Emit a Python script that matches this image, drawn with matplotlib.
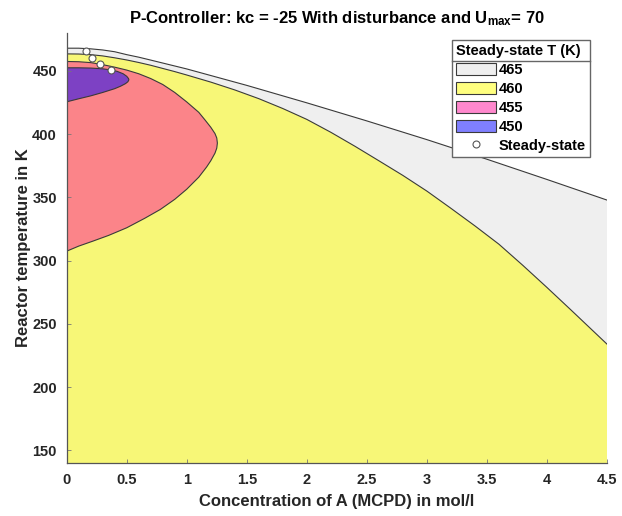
import matplotlib
matplotlib.use("Agg")
import matplotlib.pyplot as plt
from matplotlib.lines import Line2D
from matplotlib.patches import Patch

plt.rcParams['font.family'] = ['Liberation Sans', 'DejaVu Sans']
plt.rcParams['font.weight'] = 'bold'
plt.rcParams['mathtext.fontset'] = 'custom'
plt.rcParams['mathtext.rm'] = 'Liberation Sans:bold'
plt.rcParams['mathtext.bf'] = 'Liberation Sans:bold'

# upper boundary of the 465 K region (everything below it converges to 465 K)
b465_x = [0, 0.1, 0.2, 0.3, 0.4, 0.5, 0.6, 0.7, 1.0, 1.5, 2.0, 2.5, 3.0, 3.5, 4.0, 4.5]
b465_y = [468, 468, 467.5, 466.6, 465.2, 462.9, 460.9, 458.6, 451.6, 438.6, 424.8,
          410.5, 395.7, 380.2, 364.2, 347.9]

# upper boundary of the 460 K region
b460_x = [0, 0.1, 0.2, 0.3, 0.4, 0.5, 0.6, 0.7, 0.8, 0.9, 1.0, 1.2, 1.4, 1.6, 1.8,
          2.0, 2.2, 2.4, 2.6, 2.8, 3.0, 3.2, 3.4, 3.6, 3.8, 4.0, 4.2, 4.4, 4.5]
b460_y = [463.5, 463.4, 462.9, 461.9, 460.4, 458.7, 456.7, 454.5, 452.0, 449.5, 446.8,
          441.2, 435.0, 428.1, 420.3, 411.7, 401.5, 390.5, 379.0, 367.4, 355.0, 341.4,
          327.5, 313.0, 296.2, 278.8, 261.0, 243.0, 234.0]

# closed outline of the 455 K region (top branch, then bottom branch back to x=0)
b455_x = [0, 0.1, 0.2, 0.3, 0.4, 0.5, 0.6, 0.7, 0.8, 0.9, 1.0, 1.1, 1.15, 1.2,
          1.235, 1.25, 1.255, 1.25, 1.235, 1.2, 1.165, 1.1, 1.0, 0.9, 0.78, 0.65,
          0.5, 0.35, 0.22, 0.1, 0]
b455_y = [457.5, 457.3, 456.6, 455, 453, 450.7, 447.8, 444, 439.3, 433, 425.5, 417.3,
          411.5, 405.5, 400.5, 397, 393, 389, 385, 379, 374, 366, 356.5, 348.5, 340.5,
          333.5, 326, 320, 315.5, 311.5, 307.5]

# closed outline of the 450 K region
b450_x = [0, 0.1, 0.2, 0.3, 0.37, 0.42, 0.47, 0.5, 0.515, 0.518, 0.51, 0.49, 0.45,
          0.4, 0.3, 0.2, 0.1, 0]
b450_y = [452.5, 452.5, 452.3, 451.7, 450.8, 449.7, 447.8, 445.8, 444, 443, 441.5,
          440, 438, 436, 433, 430.3, 428, 425.6]

# steady states
ss_x = [0.16, 0.21, 0.28, 0.37]
ss_y = [465.5, 460.5, 455.5, 450.5]

levels = ['465', '460', '455', '450']
face = {
    '465': (0.88, 0.88, 0.88, 0.5),
    '460': (1.0, 1.0, 0.0, 0.5),
    '455': (1.0, 0.07, 0.61, 0.5),
    '450': (0.0, 0.0, 1.0, 0.5),
}
edge = '#3a3a3a'
Y_MIN, Y_MAX = 140, 480

fig = plt.figure(figsize=(6.22, 5.16), dpi=100)
ax = fig.add_axes([0.1072, 0.1027, 0.8687, 0.8333])

ax.fill_between(b465_x, b465_y, Y_MIN - 10, facecolor=face['465'], edgecolor='none')
ax.fill_between(b460_x, b460_y, Y_MIN - 10, facecolor=face['460'], edgecolor='none')
ax.plot(b465_x, b465_y, color=edge, lw=0.8)
ax.plot(b460_x, b460_y, color=edge, lw=0.8)
ax.fill(b455_x, b455_y, facecolor=face['455'], edgecolor=edge, lw=0.8)
ax.fill(b450_x, b450_y, facecolor=face['450'], edgecolor=edge, lw=0.8)
ax.plot(ss_x, ss_y, 'o', ms=5, mfc='white', mec='#555555', mew=0.8, zorder=5)

ax.set_xlim(0, 4.5)
ax.set_ylim(Y_MIN, Y_MAX)
ax.set_xticks([0, 0.5, 1, 1.5, 2, 2.5, 3, 3.5, 4, 4.5])
ax.set_xticklabels(['0', '0.5', '1', '1.5', '2', '2.5', '3', '3.5', '4', '4.5'])
ax.set_yticks([150, 200, 250, 300, 350, 400, 450])
for s in ['top', 'right']:
    ax.spines[s].set_visible(False)
for s in ['left', 'bottom']:
    ax.spines[s].set_color('#555555')
    ax.spines[s].set_linewidth(0.9)
ax.tick_params(direction='in', length=3, width=0.6, color='#777777',
               labelsize=10.5, labelcolor='#262626', pad=7)

ax.set_xlabel('Concentration of A (MCPD) in mol/l', fontsize=12, fontweight='bold',
              color='#262626', labelpad=5)
ax.set_ylabel('Reactor temperature in K', fontsize=12, fontweight='bold',
              color='#262626', labelpad=1)
ax.set_title(r'P-Controller: kc = -25 With disturbance and $\mathbf{U_{max}}$= 70',
             fontsize=12, fontweight='bold', pad=7)

handles = [Patch(facecolor=face[k], edgecolor=edge, lw=0.8) for k in levels]
handles.append(Line2D([], [], marker='o', ls='none', ms=5, mfc='white',
                      mec='#555555', mew=0.8))
labels = levels + ['Steady-state']
leg = ax.legend(handles, labels, title='Steady-state T (K)', loc='upper right',
                bbox_to_anchor=(0.9685, 0.9837), borderaxespad=0, fancybox=False,
                framealpha=1, edgecolor='#666666', prop={'weight': 'bold', 'size': 10.5},
                title_fontproperties={'weight': 'bold', 'size': 10.5},
                handlelength=2.75, handleheight=0.9, handletextpad=0.15,
                labelspacing=0.33, borderpad=0.3)
leg.get_frame().set_linewidth(1.0)
leg._legend_box.align = 'left'

# separator under the legend title
fig.canvas.draw()
r = fig.canvas.get_renderer()
lb = leg.get_window_extent(r)
tb = leg.get_title().get_window_extent(r)
ysep = tb.y0 - 3
inv = fig.transFigure.inverted()
(x0, y0), (x1, _) = inv.transform([(lb.x0, ysep), (lb.x1, ysep)])
fig.add_artist(Line2D([x0, x1], [y0, y0], transform=fig.transFigure,
                      color='#666666', lw=1.0))

fig.savefig('out.png', dpi=100)
